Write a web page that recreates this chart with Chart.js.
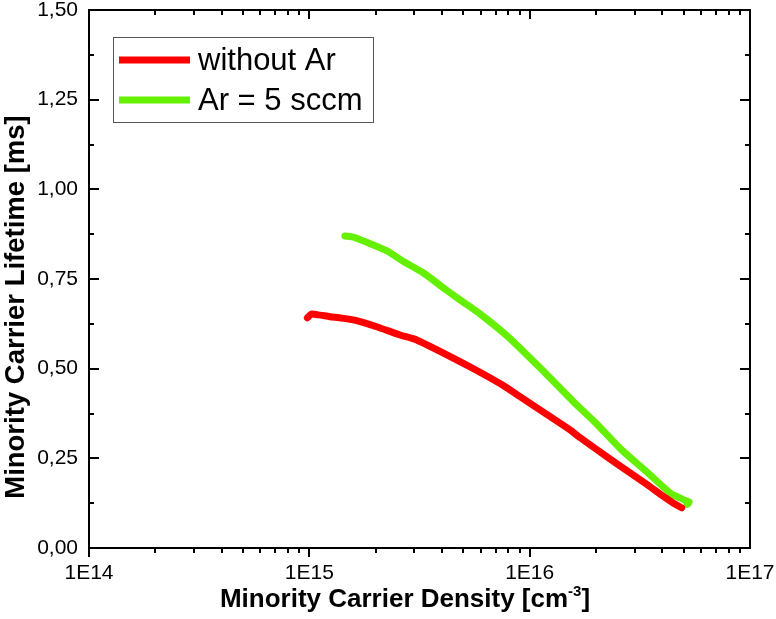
<!DOCTYPE html>
<html>
<head>
<meta charset="utf-8">
<script src="https://cdn.jsdelivr.net/npm/chart.js@4.4.1/dist/chart.umd.min.js"></script>
<style>
  html, body { margin: 0; padding: 0; background: #fff; }
  #wrap { width: 776px; height: 619px; }
</style>
</head>
<body>
<div id="wrap"><canvas id="lifetimeChart"></canvas></div>
<script>
// Series
const seriesLabels = ['without Ar', 'Ar = 5 sccm'];
const seriesColors = ['#ff0000', '#64f000'];

const densityNoAr  = [9.8e14, 1.02e15, 1.1e15, 1.24e15, 1.4e15, 1.64e15, 2.02e15, 2.58e15, 3.07e15, 3.92e15, 5.0e15, 5.95e15, 7.5e15, 9.04e15, 1.2e16, 1.52e16, 1.69e16, 2.0e16, 2.5e16, 3.39e16, 4.0e16, 4.5e16, 4.9e16];
const lifetimeNoAr = [0.642, 0.652, 0.650, 0.645, 0.641, 0.634, 0.617, 0.594, 0.580, 0.548, 0.515, 0.490, 0.455, 0.422, 0.372, 0.330, 0.308, 0.276, 0.234, 0.178, 0.146, 0.125, 0.112];

const densityAr  = [1.45e15, 1.6e15, 1.78e15, 2.24e15, 2.69e15, 3.31e15, 4.17e15, 5.01e15, 6.03e15, 7.94e15, 1.12e16, 1.58e16, 2.0e16, 2.6e16, 3.39e16, 4.37e16, 4.8e16, 5.05e16, 5.3e16, 5.2e16];
const lifetimeAr = [0.870, 0.866, 0.855, 0.829, 0.798, 0.766, 0.720, 0.685, 0.650, 0.590, 0.501, 0.408, 0.348, 0.275, 0.213, 0.152, 0.140, 0.133, 0.128, 0.122];

const xTickValues = [1e14, 1e15, 1e16, 1e17];
const xTickLabels = ['1E14', '1E15', '1E16', '1E17'];
const yTickValues = [0, 0.25, 0.5, 0.75, 1.0, 1.25, 1.5];

const toPoints = (xs, ys) => xs.map((x, i) => ({ x: x, y: ys[i] }));

// frame, inward/outward tick marks, legend box and axis titles
const decorations = {
  id: 'decorations',
  afterDraw(chart) {
    const { ctx, chartArea: a, scales: { x, y } } = chart;
    ctx.save();
    ctx.strokeStyle = '#000';
    ctx.lineWidth = 2;
    ctx.strokeRect(a.left, a.top, a.right - a.left, a.bottom - a.top);

    ctx.beginPath();
    // x: major + minor ticks, outward at bottom, inward at top
    for (let d = 14; d < 17; d++) {
      for (let m = 1; m < 10; m++) {
        const px = Math.round(x.getPixelForValue(m * Math.pow(10, d)));
        const len = m === 1 ? 9 : 5;
        ctx.moveTo(px, a.bottom); ctx.lineTo(px, a.bottom + len);
        ctx.moveTo(px, a.top); ctx.lineTo(px, a.top + len);
      }
    }
    // y: major + minor, inward on both sides
    for (let v = 0; v <= 1.5001; v += 0.125) {
      const py = Math.round(y.getPixelForValue(v));
      const major = Math.abs(v / 0.25 - Math.round(v / 0.25)) < 1e-6;
      const len = major ? 10 : 5;
      ctx.moveTo(a.left, py); ctx.lineTo(a.left + len, py);
      ctx.moveTo(a.right, py); ctx.lineTo(a.right - len, py);
    }
    ctx.stroke();

    // legend
    ctx.lineWidth = 1;
    ctx.strokeStyle = '#555';
    ctx.strokeRect(113.5, 37.5, 260, 85);
    chart.data.datasets.forEach((ds, i) => {
      const ly = 60 + i * 40;
      ctx.strokeStyle = ds.borderColor;
      ctx.lineWidth = 7;
      ctx.lineCap = 'butt';
      ctx.beginPath();
      ctx.moveTo(119, ly); ctx.lineTo(190, ly);
      ctx.stroke();
      ctx.fillStyle = '#000';
      ctx.font = '31px "Liberation Sans", Arial, sans-serif';
      ctx.textBaseline = 'middle';
      ctx.textAlign = 'left';
      ctx.fillText(ds.label, 198, ly + 1);
    });

    // x title with superscript
    ctx.fillStyle = '#000';
    ctx.textBaseline = 'alphabetic';
    const big = 'bold 26px "Liberation Sans", Arial, sans-serif';
    const small = 'bold 15px "Liberation Sans", Arial, sans-serif';
    const p1 = 'Minority Carrier Density [cm', p2 = '-3', p3 = ']';
    ctx.font = big; const w1 = ctx.measureText(p1).width, w3 = ctx.measureText(p3).width;
    ctx.font = small; const w2 = ctx.measureText(p2).width;
    let sx = 405 - (w1 + w2 + w3) / 2;
    const base = 607;
    ctx.font = big; ctx.fillText(p1, sx, base); sx += w1;
    ctx.font = small; ctx.fillText(p2, sx, base - 11); sx += w2;
    ctx.font = big; ctx.fillText(p3, sx, base);

    // y title
    ctx.save();
    ctx.translate(24, 307);
    ctx.rotate(-Math.PI / 2);
    ctx.textAlign = 'center';
    ctx.font = 'bold 27.5px "Liberation Sans", Arial, sans-serif';
    ctx.fillText('Minority Carrier Lifetime [ms]', 0, 0);
    ctx.restore();

    ctx.restore();
  }
};

new Chart(document.getElementById('lifetimeChart'), {
  type: 'scatter',
  data: {
    datasets: [
      { label: seriesLabels[0], data: toPoints(densityNoAr, lifetimeNoAr), borderColor: seriesColors[0], backgroundColor: seriesColors[0] },
      { label: seriesLabels[1], data: toPoints(densityAr, lifetimeAr), borderColor: seriesColors[1], backgroundColor: seriesColors[1] }
    ]
  },
  options: {
    responsive: true,
    maintainAspectRatio: false,
    animation: false,
    layout: { padding: { top: 10, right: 26, left: 0, bottom: 0 } },
    elements: {
      line: { borderWidth: 7, tension: 0.2, borderCapStyle: 'round', borderJoinStyle: 'round', fill: false },
      point: { radius: 0, hoverRadius: 0 }
    },
    datasets: { scatter: { showLine: true } },
    plugins: { legend: { display: false }, tooltip: { enabled: false } },
    scales: {
      x: {
        type: 'logarithmic',
        min: 1e14,
        max: 1e17,
        grid: { display: false, drawTicks: false },
        border: { display: false },
        afterBuildTicks: s => { s.ticks = xTickValues.map(v => ({ value: v })); },
        afterFit: s => { s.height = 71; s.paddingLeft = 0; s.paddingRight = 0; },
        ticks: {
          padding: 13,
          color: '#000',
          autoSkip: false,
          maxRotation: 0,
          font: { family: '"Liberation Sans", Arial, sans-serif', size: 21 },
          callback: v => xTickLabels[xTickValues.indexOf(v)] || ''
        }
      },
      y: {
        min: 0,
        max: 1.5,
        grid: { display: false, drawTicks: false },
        border: { display: false },
        afterBuildTicks: s => { s.ticks = yTickValues.map(v => ({ value: v })); },
        afterFit: s => { s.width = 89; s.paddingTop = 0; s.paddingBottom = 0; },
        ticks: {
          padding: 11,
          color: '#000',
          font: { family: '"Liberation Sans", Arial, sans-serif', size: 21 },
          callback: v => v.toFixed(2).replace('.', ',')
        }
      }
    }
  },
  plugins: [decorations]
});
</script>
</body>
</html>
